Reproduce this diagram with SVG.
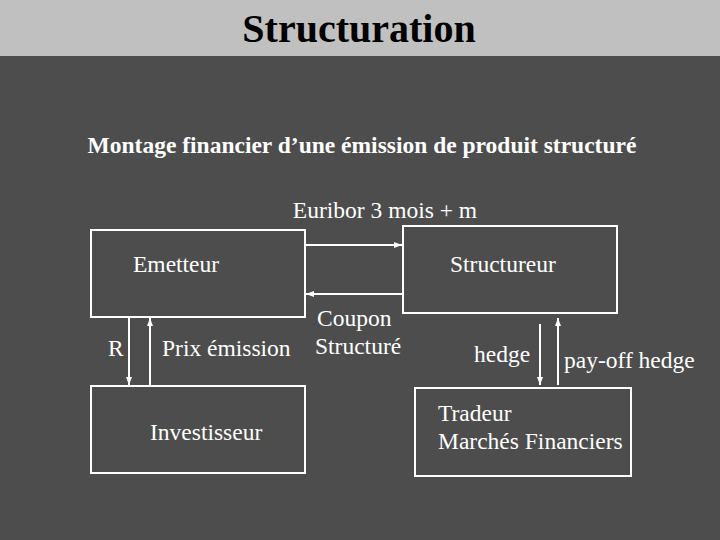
<svg xmlns="http://www.w3.org/2000/svg" width="720" height="540" viewBox="0 0 720 540">
<defs>
<marker id="a" markerWidth="8" markerHeight="6" refX="8" refY="3" orient="auto" markerUnits="userSpaceOnUse"><path d="M0,0 L8,3 L0,6 Z" fill="#fff"/></marker>
<style>
.t{font-family:"Liberation Serif",serif;fill:#fff;font-size:23.5px}
.b{fill:none;stroke:#fff;stroke-width:2}
.c{stroke:#fff;stroke-width:2;fill:none;marker-end:url(#a)}
</style>
</defs>
<rect width="720" height="540" fill="#4d4d4d"/>
<rect width="720" height="56" fill="#c0c0c0"/>
<text x="359" y="42" text-anchor="middle" font-family="Liberation Serif,serif" font-weight="bold" font-size="40" fill="#000">Structuration</text>
<text x="362" y="153" text-anchor="middle" class="t" font-weight="bold">Montage financier d’une émission de produit structuré</text>
<text x="385" y="218" text-anchor="middle" class="t">Euribor 3 mois + m</text>
<g id="emetteur"><rect class="b" x="91" y="230" width="214" height="87"/><text class="t" x="133" y="272">Emetteur</text></g>
<g id="structureur"><rect class="b" x="403" y="226" width="214" height="87"/><text class="t" x="450" y="272">Structureur</text></g>
<g id="investisseur"><rect class="b" x="91" y="386" width="214" height="87"/><text class="t" x="150" y="440">Investisseur</text></g>
<g id="tradeur"><rect class="b" x="415" y="388" width="216" height="88"/><text class="t" x="438" y="421">Tradeur</text><text class="t" x="438" y="449">Marchés Financiers</text></g>
<g id="connectors">
<line class="c" x1="305" y1="245" x2="402" y2="245"/>
<line class="c" x1="403" y1="294" x2="306" y2="294"/>
<line class="c" x1="129" y1="317" x2="129" y2="385"/>
<line class="c" x1="150" y1="385" x2="150" y2="318"/>
<line class="c" x1="540" y1="324" x2="540" y2="385"/>
<line class="c" x1="558" y1="385" x2="558" y2="318"/>
</g>
<text class="t" x="108" y="356">R</text>
<text class="t" x="162" y="356">Prix émission</text>
<text class="t" x="317" y="326">Coupon</text>
<text class="t" x="315" y="354">Structuré</text>
<text class="t" x="474" y="362">hedge</text>
<text class="t" x="564" y="368">pay-off hedge</text>
</svg>
